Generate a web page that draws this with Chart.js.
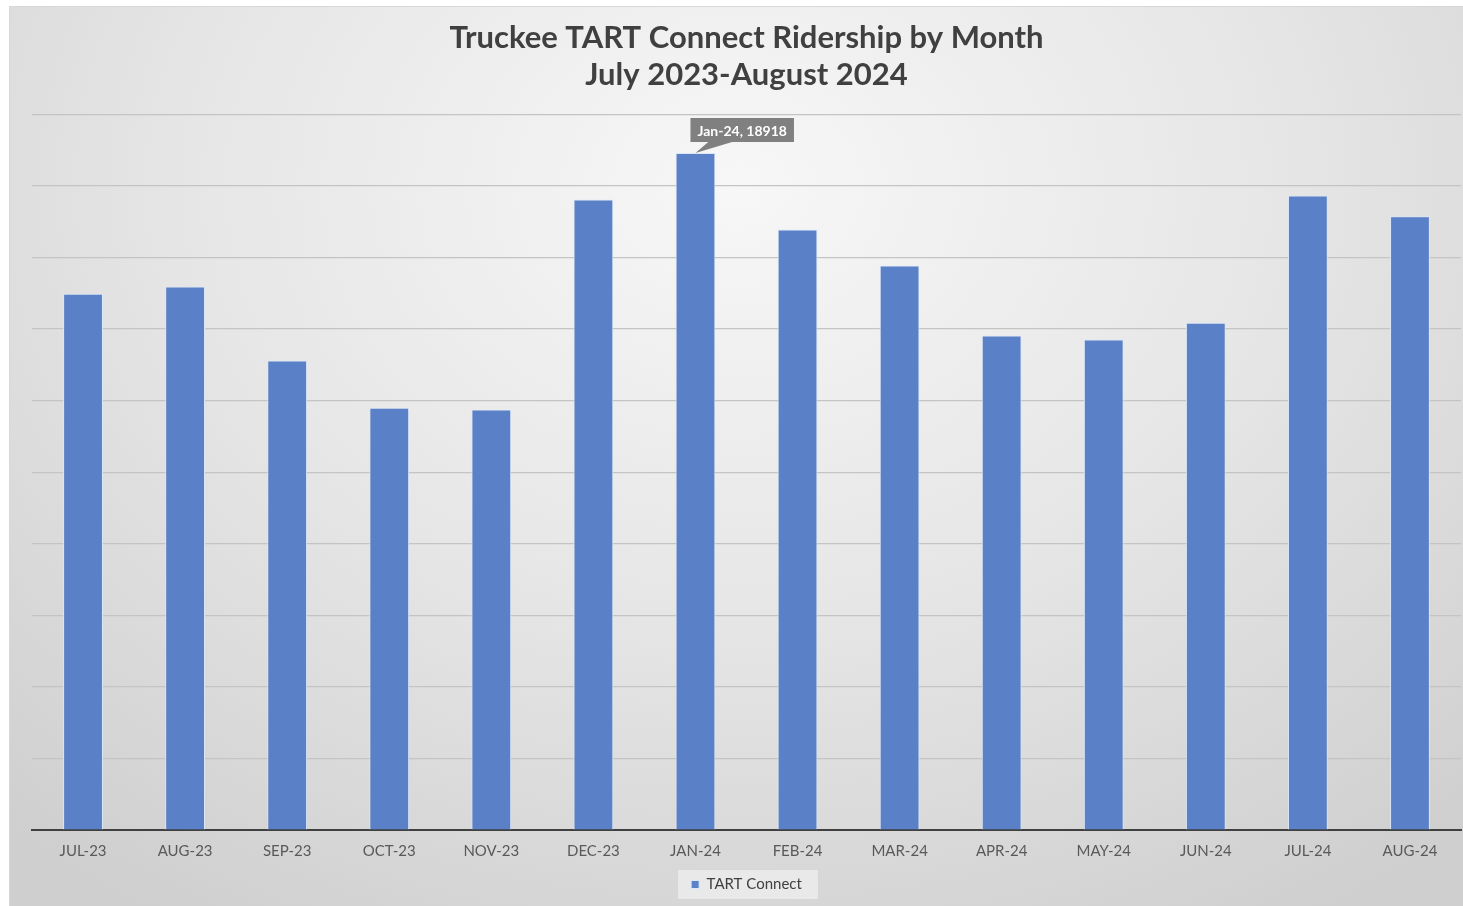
<!DOCTYPE html>
<html>
<head>
<meta charset="utf-8">
<script src="https://cdn.jsdelivr.net/npm/chart.js@4"></script>
<style>
    html, body { margin: 0; padding: 0; background: #ffffff; }
    #wrap {
        position: absolute; left: 9px; top: 6px; width: 1454px; height: 900px;
        background: radial-gradient(ellipse 75% 95% at 50% 20%, #f7f7f7 0%, #e6e6e6 50%, #cfcfcf 100%);
        border-left: 1px solid #d8d8d8; border-top: 1px solid #d8d8d8;
        box-sizing: border-box;
    }
</style>
</head>
<body>
<div id="wrap"><canvas id="chart"></canvas></div>
<script>
// Aylık yolcu verisi
const months = ['JUL-23', 'AUG-23', 'SEP-23', 'OCT-23', 'NOV-23', 'DEC-23', 'JAN-24',
    'FEB-24', 'MAR-24', 'APR-24', 'MAY-24', 'JUN-24', 'JUL-24', 'AUG-24'];
const riders = [14990, 15190, 13120, 11800, 11750, 17620, 18918,
    16780, 15780, 13820, 13710, 14180, 17730, 17150];
const calloutIndex = 6;
const calloutText = 'Jan-24, 18918';

// Jan-24 üstündeki açıklama kutusu
const calloutPlugin = {
    id: 'callout',
    afterDatasetsDraw(chart) {
        const bar = chart.getDatasetMeta(0).data[calloutIndex];
        const c = chart.ctx;
        c.save();
        c.font = 'bold 14px Lato';
        const w = c.measureText(calloutText).width + 14;
        const h = 24;
        const x = bar.x - 5;
        const y = bar.y - 11 - h;
        c.fillStyle = '#808080';
        c.beginPath();
        c.rect(x, y, w, h);
        c.fill();
        c.beginPath();
        c.moveTo(bar.x + 14, y + h - 1);
        c.lineTo(bar.x + 40, y + h - 1);
        c.lineTo(bar.x, bar.y);
        c.closePath();
        c.fill();
        c.fillStyle = '#ffffff';
        c.textAlign = 'left';
        c.textBaseline = 'middle';
        c.fillText(calloutText, x + 7, y + h / 2 + 1);
        c.restore();
    }
};

// Lejant arka planı
const legendBgPlugin = {
    id: 'legendBg',
    beforeDraw(chart) {
        const lg = chart.legend;
        if (!lg) return;
        const item = lg.legendHitBoxes[0];
        if (!item) return;
        const c = chart.ctx;
        c.save();
        c.fillStyle = 'rgba(236,236,236,0.85)';
        c.fillRect(item.left - 13, item.top - 7, item.width + 29, item.height + 14);
        c.restore();
    }
};

new Chart(document.getElementById('chart'), {
    type: 'bar',
    data: {
        labels: months,
        datasets: [{
            label: 'TART Connect',
            data: riders,
            backgroundColor: '#5a81c8',
            borderColor: '#dbe6f7',
            borderWidth: 1,
            barPercentage: 0.39,
            categoryPercentage: 1
        }]
    },
    options: {
        responsive: true,
        maintainAspectRatio: false,
        animation: false,
        layout: { padding: { left: 22, right: 2, top: 0, bottom: 4 } },
        plugins: {
            title: {
                display: true,
                text: ['Truckee TART Connect Ridership by Month', 'July 2023-August 2024'],
                color: '#404040',
                font: { family: 'Lato', size: 31, weight: 'bold', lineHeight: 1.2 },
                padding: { top: 12, bottom: 21 }
            },
            legend: {
                position: 'bottom',
                labels: {
                    color: '#404040',
                    font: { family: 'Lato', size: 15 },
                    boxWidth: 8,
                    boxHeight: 8,
                    padding: 10
                }
            },
            tooltip: { enabled: false }
        },
        scales: {
            x: {
                grid: { display: false },
                border: { color: '#404040', width: 2 },
                ticks: { color: '#595959', font: { family: 'Lato', size: 15 }, padding: 4 },
                afterFit(scale) { scale.height += 3; }
            },
            y: {
                min: 0,
                max: 20000,
                ticks: { display: false, stepSize: 2000 },
                grid: { color: '#c4c4c4', lineWidth: 1.2, drawTicks: false },
                border: { display: false }
            }
        }
    },
    plugins: [calloutPlugin, legendBgPlugin]
});
</script>
</body>
</html>
